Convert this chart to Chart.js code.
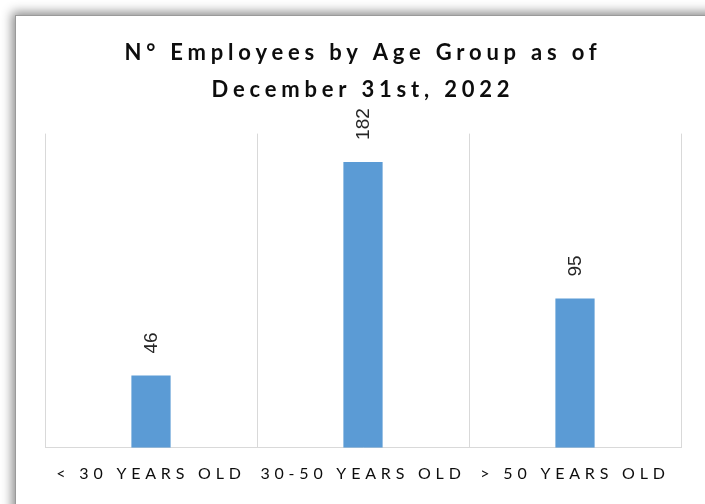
<!DOCTYPE html>
<html>
<head>
<meta charset="utf-8">
<script src="https://cdn.jsdelivr.net/npm/chart.js@4/dist/chart.umd.min.js"></script>
<style>
  html, body { margin: 0; padding: 0; background: #ffffff; overflow: hidden; width: 705px; height: 504px; }
  #frame {
    position: absolute; left: 15px; top: 15px; width: 720px; height: 520px;
    background: #ffffff; border-left: 1px solid #9a9a9a; border-top: 1px solid #9a9a9a;
    box-shadow: -3px -3px 10px rgba(0,0,0,0.45);
  }
  #wrap { position: absolute; left: 16px; top: 16px; width: 689px; height: 488px; }
</style>
</head>
<body>
<div id="frame"></div>
<div id="wrap"><canvas id="c" width="689" height="488"></canvas></div>
<script>
const categories = ['< 30 YEARS OLD', '30-50 YEARS OLD', '> 50 YEARS OLD'];
const employees = [46, 182, 95];
const titleLines = ['N\u00b0 Employees by Age Group as of', 'December 31st, 2022'];

const spacingPlugin = {
  id: 'spacing',
  beforeDraw(chart) { chart.ctx.letterSpacing = '4.8px'; },
  afterDraw(chart) { chart.ctx.letterSpacing = '0px'; }
};

const valueLabels = {
  id: 'valueLabels',
  afterDatasetsDraw(chart) {
    const ctx = chart.ctx;
    const meta = chart.getDatasetMeta(0);
    ctx.save();
    ctx.letterSpacing = '0px';
    ctx.font = '19px "Liberation Sans", Arial, sans-serif';
    ctx.fillStyle = '#262626';
    ctx.textAlign = 'left';
    ctx.textBaseline = 'middle';
    meta.data.forEach((bar, i) => {
      ctx.save();
      ctx.translate(bar.x + 1, bar.y - 22);
      ctx.rotate(-Math.PI / 2);
      ctx.fillText(String(employees[i]), 0, 0);
      ctx.restore();
    });
    ctx.restore();
  }
};

new Chart(document.getElementById('c'), {
  type: 'bar',
  data: {
    labels: categories,
    datasets: [{
      data: employees,
      backgroundColor: '#5B9BD5',
      borderWidth: 0,
      barPercentage: 0.185,
      categoryPercentage: 1
    }]
  },
  options: {
    responsive: false,
    animation: false,
    devicePixelRatio: 1,
    layout: { padding: { left: 29, right: 24, top: 0, bottom: 5 } },
    plugins: {
      legend: { display: false },
      tooltip: { enabled: false },
      title: {
        display: true,
        text: titleLines,
        color: '#0d0d0d',
        font: { family: 'Lato, "Open Sans", sans-serif', size: 22, weight: 'bold', lineHeight: 1.65 },
        padding: { top: 19, bottom: 26 }
      }
    },
    scales: {
      x: {
        grid: { display: true, color: '#d9d9d9', lineWidth: 1, drawTicks: false, offset: true },
        border: { display: true, color: '#d9d9d9' },
        ticks: {
          color: '#0d0d0d',
          padding: 16,
          maxRotation: 0,
          autoSkip: false,
          font: { family: 'Lato, "Open Sans", sans-serif', size: 16 }
        }
      },
      y: {
        display: false,
        min: 0,
        max: 200
      }
    }
  },
  plugins: [spacingPlugin, valueLabels]
});
</script>
</body>
</html>
